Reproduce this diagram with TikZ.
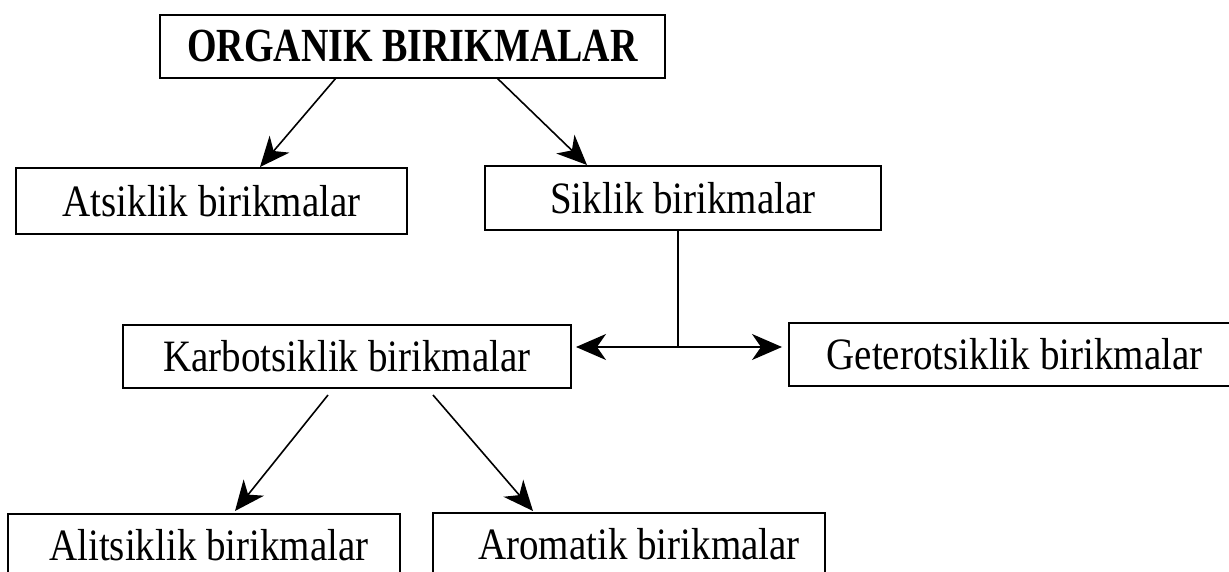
\documentclass[tikz,border=0pt]{standalone}
\usepackage{fontspec}
\setmainfont{Liberation Serif}
\usetikzlibrary{arrows.meta}
\newcommand{\tall}[1]{\scalebox{1}[1.15]{#1}}
\newcommand{\talll}[1]{\scalebox{1}[1.25]{#1}}
\tikzset{
  box/.style={draw=black,line width=1.6pt,rectangle,inner sep=0pt,outer sep=0pt,
    font=\fontsize{39}{42}\selectfont},
  arrowtip/.tip={Stealth[length=30pt,width=26pt,inset=9pt]},
  arr/.style={line width=1.6pt,-arrowtip},
  conn/.style={line width=1.6pt}}
\begin{document}
\begin{tikzpicture}[x=1pt,y=-1pt]
\useasboundingbox (0,0) rectangle (1229,572);
\node[box,minimum width=505pt,minimum height=63pt,font=\fontsize{38}{40}\selectfont\bfseries]
  (org) at (412.5,46.5) {\talll{ORGANIK BIRIKMALAR}\hspace{20pt}};
\node[box,minimum width=391pt,minimum height=66pt] (ats) at (211.5,201) {\tall{Atsiklik birikmalar}\hspace{18pt}};
\node[box,minimum width=396pt,minimum height=64pt] (sik) at (683,198) {\tall{Siklik birikmalar}};
\node[box,minimum width=448pt,minimum height=63pt] (karb) at (347,356.5) {\tall{Karbotsiklik birikmalar}};
\node[box,minimum width=451pt,minimum height=63pt] (get) at (1014.5,354.5) {\tall{Geterotsiklik birikmalar}};
\node[box,minimum width=392pt,minimum height=63pt] (ali) at (204,545.5) {\hspace{10pt}\tall{Alitsiklik birikmalar}};
\node[box,minimum width=392pt,minimum height=63pt] (aro) at (629,544.5) {\hspace{20pt}\tall{Aromatik birikmalar}};
% arrows from top
\draw[arr] ([xshift=-76.5pt]org.south) -- ([xshift=48.5pt,yshift=1pt]ats.north);
\draw[arr] ([xshift=84.5pt]org.south) -- ([xshift=-96pt,yshift=1pt]sik.north);
% split
\coordinate (j) at (678,347);
\draw[conn] (sik.south -| j) -- (j);
\draw[arr] (j) -- ([xshift=5pt]karb.east |- j);
\draw[arr] (j) -- ([xshift=-7pt]get.west |- j);
% bottom arrows
\draw[arr] ([xshift=-19pt,yshift=-7pt]karb.south) -- ([xshift=31pt,yshift=3pt]ali.north);
\draw[arr] ([xshift=86pt,yshift=-7pt]karb.south) -- ([xshift=-96pt,yshift=2pt]aro.north);
\end{tikzpicture}
\end{document}
